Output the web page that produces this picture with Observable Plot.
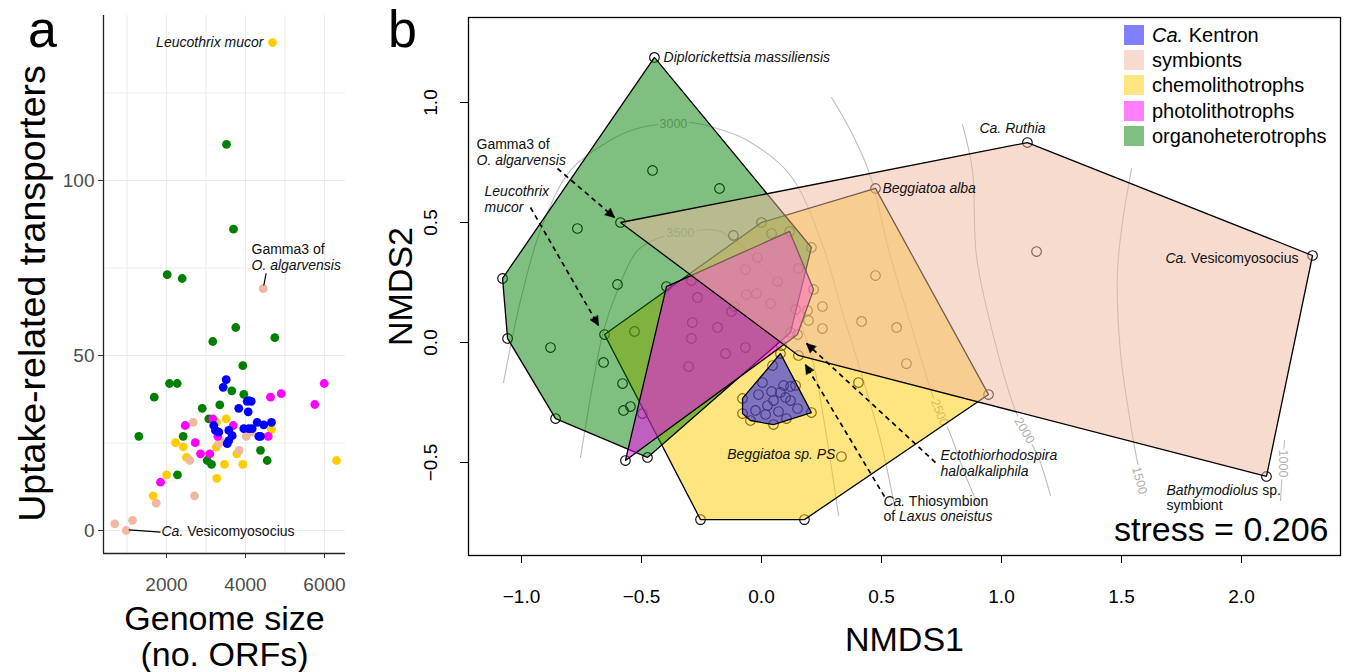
<!DOCTYPE html>
<html><head><meta charset="utf-8">
<script src="https://cdn.jsdelivr.net/npm/d3@7"></script>
<script src="https://cdn.jsdelivr.net/npm/@observablehq/plot@0.6"></script>
<style>
body{margin:0;background:#fff;font-family:"Liberation Sans",Arial,sans-serif;}
#wrap{position:relative;width:1349px;height:672px;overflow:hidden;background:#fff;}
#pa{position:absolute;left:0;top:0;}
#pb{position:absolute;left:355px;top:0;}
.lbl{position:absolute;font-size:52px;line-height:1;color:#000;}
#legend{position:absolute;left:1124px;top:25px;font-size:20px;color:#000;}
.li{position:relative;height:25.2px;}
.sw{position:absolute;left:0;top:0;width:20px;height:20px;}
.lt{position:absolute;left:28px;top:0;line-height:20px;white-space:nowrap;}
</style></head><body>
<div id="wrap">
<div id="pa"></div><div id="pb"></div>
<div class="lbl" style="left:28px;top:3px">a</div>
<div class="lbl" style="left:388px;top:3px">b</div>
<div id="legend"></div>
</div>
<script>
// ---------- Panel a data: [genome size (ORFs), uptake-related transporters]
const aOrgano = [[3519,110.3],[3696,86.1],[2018,73.1],[2397,72.0],[3754,58.0],[3172,54.0],[4742,55.1],[3932,47.1],[2076,42.0],[2271,42.0],[3653,39.9],[3957,38.9],[1689,38.1],[2904,34.9],[3349,35.9],[3071,31.9],[1299,26.9],[2423,26.9],[3030,20.0],[3139,18.9],[4380,22.9],[4549,20.0],[2278,15.9]];
const aKentron = [[3511,43.1],[3435,40.9],[4084,37.1],[3830,34.9],[4043,36.9],[4144,36.9],[4068,33.9],[3197,30.0],[3240,28.6],[3324,28.1],[3577,28.6],[3663,27.1],[3577,25.7],[3537,24.8],[3957,29.1],[4084,29.1],[4170,29.1],[4296,30.9],[4463,30.2],[4658,30.9],[4337,26.9],[4380,26.9]];
const aPhoto = [[4633,38.1],[4904,39.1],[5992,42.0],[5754,36.0],[3172,31.9],[2473,30.0],[3689,30.0],[4575,26.9],[3299,26.9],[2727,25.1],[2861,21.9],[3096,21.9],[1848,13.8]];
const aChemo = [[4684,139.4],[3511,31.9],[3266,30.9],[4658,28.9],[3258,23.8],[2228,25.1],[2423,23.9],[2506,20.9],[3468,18.9],[3780,21.9],[3932,18.9],[6304,20.0],[2000,15.9],[3273,14.9],[1663,9.9]];
const aSymb = [[4448,69.1],[2676,30.9],[4144,28.1],[4018,26.9],[3367,25.7],[3324,24.8],[2590,20.0],[3840,22.9],[1739,7.8],[2709,9.9],[691,1.9],[1139,2.9],[980,0]];
const aXTicks = [2000,4000,6000], aXTickLabels = ["2000","4000","6000"];
const aYTicks = [0,50,100], aYTickLabels = ["0","50","100"];
const aGridX = [1000,2000,3000,4000,5000,6000];
const aGridY = [0,25,50,75,100,125];
const aNotes = [
 {t:"*Leucothrix mucor*", x:4456, y:139.4, a:"end"},
 {t:"Gamma3 of", x:4152, y:80.3, a:"start"},
 {t:"*O. algarvensis*", x:4152, y:75.7, a:"start"},
 {t:"*Ca.* Vesicomyosocius", x:1873, y:-0.3, a:"start"}
];
const aLinks = [{x1:4523,y1:73.5,x2:4463,y2:70.0},{x1:1046,y1:0.2,x2:1848,y2:-0.48}];

// ---------- Panel b data: [NMDS1, NMDS2]
const bOrgano = [[-0.446,1.188],[0.208,0.396],[0.121,0.042],[-0.475,-0.479],[-0.858,-0.317],[-1.058,0.017],[-1.079,0.267],[-0.454,0.717],[-0.175,0.642],[-0.767,0.475],[-0.600,0.242],[-0.879,-0.021],[-0.529,0.046],[-0.658,-0.083],[-0.579,-0.171],[-0.546,-0.267],[-0.575,-0.283],[-0.496,-0.296],[-0.117,0.446],[-0.292,0.258]];
const bPhoto = [[-0.396,0.233],[0.117,0.463],[0.217,0.221],[0.150,0.033],[0.083,-0.013],[-0.567,-0.492],[-0.288,0.083],[-0.183,0.063],[-0.292,0.017],[-0.067,-0.021],[-0.150,-0.046],[-0.304,-0.100],[-0.267,0.188],[-0.125,0.129],[-0.063,0.200],[0.038,0.163],[-0.067,0.304],[-0.017,0.354],[0.067,0.254],[-0.1125,0.150],[-0.021,0.204]];
const bChemo = [[-0.654,0.033],[0.000,0.500],[0.475,0.642],[0.946,-0.217],[0.179,-0.738],[-0.254,-0.738],[0.254,0.150],[0.254,0.058],[0.196,0.092],[0.192,0.133],[0.142,0.138],[0.154,0.308],[0.042,0.454],[0.417,0.088],[0.563,0.063],[0.475,0.279],[0.604,-0.088],[0.404,-0.167],[0.333,-0.475]];
const bSymb = [[-0.5875,0.500],[1.108,0.833],[2.296,0.3625],[2.104,-0.558],[0.154,-0.054],[1.146,0.379]];
const bKentron = [[0.079,-0.046],[0.208,-0.292],[0.104,-0.317],[0.050,-0.342],[-0.046,-0.325],[-0.079,-0.296],[-0.079,-0.233],[0.046,-0.096],[0.004,-0.167],[0.092,-0.179],[0.121,-0.183],[0.142,-0.179],[0.079,-0.208],[0.042,-0.204],[-0.0125,-0.217],[0.100,-0.229],[0.050,-0.242],[0.121,-0.242],[0.150,-0.275],[0.071,-0.2875],[-0.025,-0.283],[0.017,-0.300],[0.025,-0.2625]];
// genome-size surface contours (ordisurf)
const cont3000 = [[-1.075,-0.167],[-1.004,0.175],[-0.921,0.467],[-0.796,0.717],[-0.617,0.850],[-0.517,0.892],[-0.296,0.917],[-0.158,0.883],[-0.058,0.842],[0.121,0.696],[0.258,0.396],[0.329,0.154],[0.4125,-0.117],[0.496,-0.408],[0.558,-0.700]];
const cont3500 = [[-0.754,-0.479],[-0.700,-0.158],[-0.658,0.050],[-0.600,0.217],[-0.517,0.383],[-0.421,0.4375],[-0.2625,0.467],[-0.183,0.467],[-0.100,0.417],[-0.004,0.329],[0.121,0.175],[0.2125,-0.075],[0.267,-0.367],[0.321,-0.721]];
const cont2500 = [[0.292,1.021],[0.371,0.883],[0.450,0.704],[0.5375,0.358],[0.6375,0.025],[0.721,-0.242],[0.779,-0.3625],[0.850,-0.554],[0.904,-0.679]];
const cont2000 = [[0.8375,0.908],[0.879,0.717],[0.896,0.358],[0.967,0.025],[1.050,-0.2625],[1.096,-0.367],[1.154,-0.479],[1.204,-0.6375]];
const cont1500 = [[1.542,0.725],[1.504,0.500],[1.483,0.2875],[1.496,-0.046],[1.529,-0.283],[1.5625,-0.479],[1.600,-0.6375]];
const cont1000 = [[2.179,-0.408],[2.1625,-0.658]];
const contLabels = [
 {t:"3000", x:-0.367, y:0.9125, r:0},
 {t:"3500", x:-0.3375, y:0.458, r:0},
 {t:"2500", x:0.742, y:-0.292, r:68},
 {t:"2000", x:1.096, y:-0.367, r:60},
 {t:"1500", x:1.575, y:-0.575, r:75},
 {t:"1000", x:2.175, y:-0.504, r:90}
];
const bXTicks = [-1,-0.5,0,0.5,1,1.5,2], bXTickLabels = ["\u22121.0","\u22120.5","0.0","0.5","1.0","1.5","2.0"];
const bYTicks = [-0.5,0,0.5,1], bYTickLabels = ["\u22120.5","0.0","0.5","1.0"];
const bNotes = [
 {t:"*Diplorickettsia massiliensis*", x:-0.408, y:1.1875, a:"start"},
 {t:"Gamma3 of", x:-1.1875, y:0.825, a:"start"},
 {t:"*O. algarvensis*", x:-1.1875, y:0.758, a:"start"},
 {t:"*Leucothrix*", x:-1.154, y:0.629, a:"start"},
 {t:"*mucor*", x:-1.154, y:0.5625, a:"start"},
 {t:"*Ca. Ruthia*", x:1.046, y:0.892, a:"middle"},
 {t:"*Beggiatoa alba*", x:0.504, y:0.642, a:"start"},
 {t:"*Ca.* Vesicomyosocius", x:2.2375, y:0.35, a:"end"},
 {t:"*Beggiatoa sp. PS*", x:0.308, y:-0.467, a:"end"},
 {t:"*Ectothiorhodospira*", x:0.746, y:-0.471, a:"start"},
 {t:"*haloalkaliphila*", x:0.746, y:-0.5375, a:"start"},
 {t:"*Ca.* Thiosymbion", x:0.508, y:-0.6625, a:"start"},
 {t:"of *Laxus oneistus*", x:0.508, y:-0.725, a:"start"},
 {t:"*Bathymodiolus* sp.", x:1.6875, y:-0.617, a:"start"},
 {t:"symbiont", x:1.6875, y:-0.679, a:"start"}
];
const bArrows = [
 {x1:-0.85,y1:0.725,x2:-0.6125,y2:0.521},
 {x1:-0.9625,y1:0.5625,x2:-0.679,y2:0.071},
 {x1:0.725,y1:-0.5,x2:0.1875,y2:-0.004},
 {x1:0.5125,y1:-0.642,x2:0.183,y2:-0.092}
];
const groupNames = ["Ca. Kentron","symbionts","chemolithotrophs","photolithotrophs","organoheterotrophs"];
const groupColors = ["#0000ff","#f0b8a0","#ffcc00","#ff00ff","#008000"];

const FONT = "Liberation Sans, Arial, Helvetica, sans-serif";
const col = Object.fromEntries(groupNames.map((g,i)=>[g,groupColors[i]]));
const tag = (arr,g)=>arr.map(d=>({x:d[0],y:d[1],g}));

function italicize(svg){
  svg.querySelectorAll("text").forEach(t=>{
    const s=t.textContent;
    if(!s.includes("*")) return;
    const parts=s.split("*");
    while(t.firstChild) t.removeChild(t.firstChild);
    parts.forEach((p,i)=>{
      if(!p) return;
      const ts=document.createElementNS("http://www.w3.org/2000/svg","tspan");
      ts.textContent=p;
      if(i%2===1) ts.setAttribute("font-style","italic");
      t.appendChild(ts);
    });
  });
}
function solidHeads(svg){
  svg.querySelectorAll("marker").forEach(m=>{
    m.setAttribute("viewBox","-8 -5 10 10");
    m.setAttribute("markerWidth","8");
    m.setAttribute("markerHeight","8");
    m.setAttribute("fill","black");
    m.setAttribute("stroke","black");
    m.setAttribute("stroke-width","0.4");
    m.setAttribute("stroke-dasharray","none");
    m.querySelectorAll("path").forEach(p=>{
      p.setAttribute("d","M-6.5,-3.2L0,0L-6.5,3.2Z");
      p.setAttribute("stroke-dasharray","none");
    });
  });
}

// ---------- Panel a
const aPoints = [
  ...tag(aOrgano,"organoheterotrophs"),
  ...tag(aChemo,"chemolithotrophs"),
  ...tag(aSymb,"symbionts"),
  ...tag(aPhoto,"photolithotrophs"),
  ...tag(aKentron,"Ca. Kentron")
];
const pa = Plot.plot({
  width:355, height:672, marginLeft:103, marginRight:10, marginTop:15, marginBottom:119,
  style:{fontFamily:FONT, background:"transparent", overflow:"visible"},
  x:{domain:[405,6532]}, y:{domain:[-6.57,147.14]},
  color:{type:"identity"},
  marks:[
    Plot.gridX(aGridX,{stroke:"#ebebeb", strokeOpacity:1, strokeWidth:1.1}),
    Plot.gridY(aGridY,{stroke:"#ebebeb", strokeOpacity:1, strokeWidth:1.1}),
    Plot.ruleX([405],{stroke:"#222", strokeWidth:1.3}),
    Plot.ruleY([-6.57],{stroke:"#222", strokeWidth:1.3}),
    Plot.axisX(aXTicks,{tickSize:5, tickPadding:19, fontSize:19, fill:"#4d4d4d", stroke:"#333", label:null, tickFormat:d=>aXTickLabels[aXTicks.indexOf(d)]}),
    Plot.axisY(aYTicks,{tickSize:5, tickPadding:4, fontSize:19, fill:"#4d4d4d", stroke:"#333", label:null, tickFormat:d=>aYTickLabels[aYTicks.indexOf(d)]}),
    Plot.dot(aPoints,{x:"x", y:"y", r:4.4, fill:d=>col[d.g], stroke:"none"}),
    Plot.link(aLinks,{x1:"x1",y1:"y1",x2:"x2",y2:"y2", stroke:"black", strokeWidth:1.2}),
    Plot.text(aNotes.filter(d=>d.a==="end"),{x:"x",y:"y",text:"t",textAnchor:"end",fontSize:14,fill:"#111"}),
    Plot.text(aNotes.filter(d=>d.a==="start"),{x:"x",y:"y",text:"t",textAnchor:"start",fontSize:14,fill:"#111"}),
    Plot.text(["Uptake-related transporters"],{frameAnchor:"left", dx:-71, dy:9, rotate:-90, fontSize:37.5, textAnchor:"middle", lineAnchor:"middle", fill:"#000"}),
    Plot.text(["Genome size"],{frameAnchor:"bottom", dy:66, fontSize:34, textAnchor:"middle", lineAnchor:"middle", fill:"#000"}),
    Plot.text(["(no. ORFs)"],{frameAnchor:"bottom", dy:102, fontSize:34, textAnchor:"middle", lineAnchor:"middle", fill:"#000"})
  ]
});
italicize(pa);
document.getElementById("pa").appendChild(pa);

// ---------- Panel b
const bPoints = [
  ...tag(bKentron,"Ca. Kentron"), ...tag(bSymb,"symbionts"), ...tag(bChemo,"chemolithotrophs"),
  ...tag(bPhoto,"photolithotrophs"), ...tag(bOrgano,"organoheterotrophs")
];
const contours = [[3000,cont3000],[3500,cont3500],[2500,cont2500],[2000,cont2000],[1500,cont1500],[1000,cont1000]]
  .flatMap(([lev,pts])=>pts.map(p=>({lev,x:p[0],y:p[1]})));
const hull = (g)=>Plot.hull(bPoints.filter(d=>d.g===g),{x:"x",y:"y",fill:col[g],fillOpacity:0.5,stroke:"black",strokeWidth:1.3,strokeLinejoin:"miter"});
const pb = Plot.plot({
  width:994, height:672, marginLeft:113, marginRight:9, marginTop:17, marginBottom:117,
  style:{fontFamily:FONT, background:"transparent", overflow:"visible"},
  x:{domain:[-1.2208,2.4125]}, y:{domain:[-0.8875,1.3542]},
  color:{type:"identity"},
  marks:[
    Plot.line(contours,{x:"x",y:"y",z:"lev",stroke:"#bdbdbd",strokeWidth:1.1,curve:"catmull-rom"}),
    Plot.text(contLabels,{x:"x",y:"y",text:"t",rotate:"r",fontSize:12.5,fill:"#b0b0b0",stroke:"white",strokeWidth:5,paintOrder:"stroke"}),
    Plot.dot(bPoints,{x:"x",y:"y",r:4.8,stroke:"black",strokeWidth:1.1,fill:"none"}),
    hull("chemolithotrophs"),
    hull("organoheterotrophs"),
    hull("photolithotrophs"),
    hull("symbionts"),
    hull("Ca. Kentron"),
    Plot.link(bArrows,{x1:"x1",y1:"y1",x2:"x2",y2:"y2",stroke:"black",strokeWidth:1.7,strokeDasharray:"5,4",markerEnd:"arrow"}),
    ...["start","middle","end"].map(a=>Plot.text(bNotes.filter(d=>d.a===a),{x:"x",y:"y",text:"t",textAnchor:a,fontSize:14,fill:"#111"})),
    Plot.text(["stress = 0.206"],{frameAnchor:"bottom-right",dx:-12,dy:-25,fontSize:34,textAnchor:"end",lineAnchor:"middle",fill:"#000"}),
    Plot.frame({stroke:"black",strokeWidth:1.3}),
    Plot.axisX(bXTicks,{tickSize:8,tickPadding:26,fontSize:19,fill:"#000",stroke:"#000",label:null,tickFormat:d=>bXTickLabels[bXTicks.indexOf(d)]}),
    Plot.axisY(bYTicks,{tickSize:8,fontSize:19,stroke:"#000",label:null,tickFormat:()=>""}),
    Plot.text(bYTicks,{frameAnchor:"left",y:d=>d,text:d=>bYTickLabels[bYTicks.indexOf(d)],rotate:-90,dx:-38,fontSize:19,textAnchor:"middle",lineAnchor:"middle",fill:"#000"}),
    Plot.text(["NMDS1"],{frameAnchor:"bottom",dy:85,fontSize:34,textAnchor:"middle",lineAnchor:"middle",fill:"#000"}),
    Plot.text(["NMDS2"],{frameAnchor:"left",dx:-67,rotate:-90,fontSize:34,textAnchor:"middle",lineAnchor:"middle",fill:"#000"})
  ]
});
italicize(pb);
solidHeads(pb);
document.getElementById("pb").appendChild(pb);

// ---------- Legend
const leg = document.getElementById("legend");
groupNames.forEach((g,i)=>{
  const row=document.createElement("div"); row.className="li";
  const sw=document.createElement("div"); sw.className="sw"; sw.style.background=groupColors[i]; sw.style.opacity=0.5;
  const lt=document.createElement("div"); lt.className="lt";
  lt.innerHTML = g.startsWith("Ca. ") ? "<i>Ca.</i>"+g.slice(3) : g;
  row.appendChild(sw); row.appendChild(lt); leg.appendChild(row);
});
</script>
</body></html>
